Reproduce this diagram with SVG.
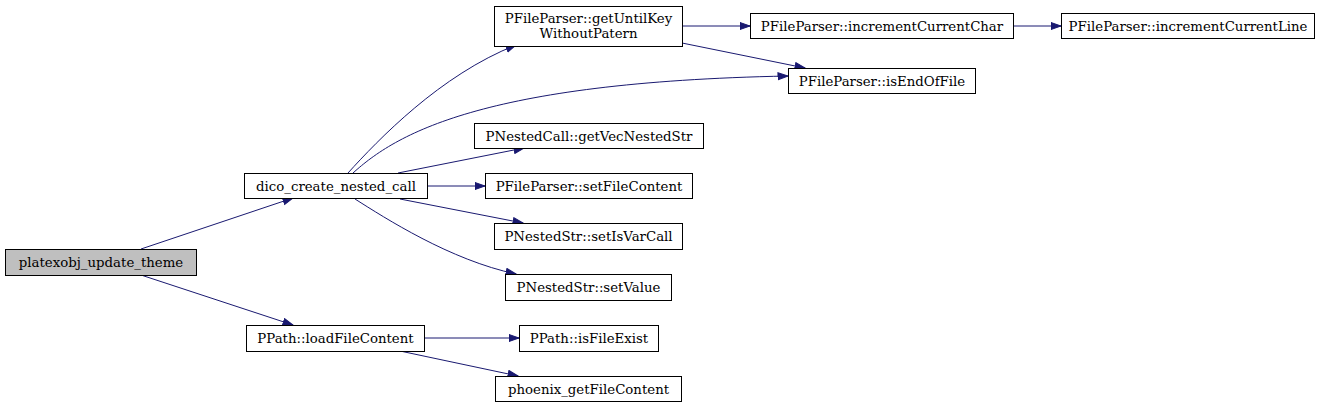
<svg xmlns="http://www.w3.org/2000/svg" width="1325" height="407" viewBox="0 0 1325 407">
<style>
.n rect{fill:#fff;stroke:#000;stroke-width:1}
.n text{font-family:"DejaVu Serif",serif;font-size:13.3px;fill:#000;text-anchor:middle}
#e path{fill:none;stroke:#191970;stroke-width:1;marker-end:url(#a)}
</style>
<defs>
<marker id="a" markerUnits="userSpaceOnUse" markerWidth="12" markerHeight="10" refX="10.5" refY="4" orient="auto">
<path d="M0.5,0.5 L10.5,4 L0.5,7.5 z" fill="#191970" stroke="#191970" stroke-width="1"/>
</marker>
</defs>
<rect width="1325" height="407" fill="#fff"/>
<g id="e">
<path d="M141,249 L293,198"/>
<path d="M141,275 L293,325"/>
<path d="M348,173 C378,140 440,75 516,45"/>
<path d="M353,173 C395,135 480,82 788,76"/>
<path d="M398,173 L524,148"/>
<path d="M427,186 L485,186"/>
<path d="M400,199 L523,223"/>
<path d="M355,199 C385,218 450,260 516,274"/>
<path d="M424,338 L519,338"/>
<path d="M400,351 L518,376"/>
<path d="M682,26 L750,26"/>
<path d="M682,43 L805,68"/>
<path d="M1013,26 L1061,26"/>
</g>
<g id="n1" class="n"><rect x="5.5" y="249.5" width="191" height="26" style="fill:#bfbfbf"/><text x="101" y="267">platexobj_update_theme</text></g>
<g id="n2" class="n"><rect x="244.5" y="173.5" width="183" height="25"/><text x="336" y="190.5">dico_create_nested_call</text></g>
<g id="n3" class="n"><rect x="246.5" y="325.5" width="178" height="26"/><text x="335.5" y="343">PPath::loadFileContent</text></g>
<g id="n4" class="n"><rect x="494.5" y="6.5" width="188" height="40"/><text x="588.5" y="22.5">PFileParser::getUntilKey</text><text x="588.5" y="37.5">WithoutPatern</text></g>
<g id="n5" class="n"><rect x="750.5" y="13.5" width="263" height="25"/><text x="882" y="30.5">PFileParser::incrementCurrentChar</text></g>
<g id="n6" class="n"><rect x="1061.5" y="13.5" width="253" height="25"/><text x="1188" y="30.5">PFileParser::incrementCurrentLine</text></g>
<g id="n7" class="n"><rect x="788.5" y="68.5" width="187" height="25"/><text x="882" y="85.5">PFileParser::isEndOfFile</text></g>
<g id="n8" class="n"><rect x="474.5" y="123.5" width="229" height="25"/><text x="589" y="140.5">PNestedCall::getVecNestedStr</text></g>
<g id="n9" class="n"><rect x="485.5" y="173.5" width="207" height="25"/><text x="589" y="190.5">PFileParser::setFileContent</text></g>
<g id="n10" class="n"><rect x="494.5" y="223.5" width="188" height="26"/><text x="588.5" y="241">PNestedStr::setIsVarCall</text></g>
<g id="n11" class="n"><rect x="505.5" y="274.5" width="166" height="26"/><text x="588.5" y="292">PNestedStr::setValue</text></g>
<g id="n12" class="n"><rect x="519.5" y="325.5" width="139" height="26"/><text x="589" y="343">PPath::isFileExist</text></g>
<g id="n13" class="n"><rect x="495.5" y="376.5" width="186" height="25"/><text x="588.5" y="393.5">phoenix_getFileContent</text></g>
</svg>
